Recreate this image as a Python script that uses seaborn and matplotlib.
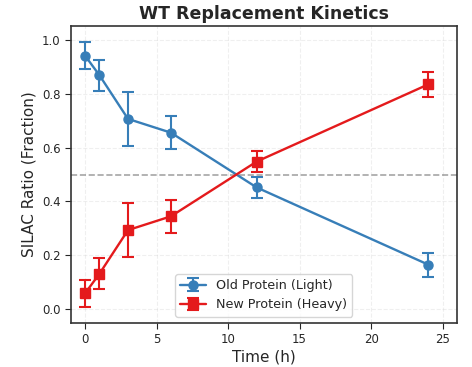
import matplotlib
matplotlib.use("Agg")
import matplotlib.pyplot as plt
import seaborn as sns
import numpy as np

time_h = [0, 1, 3, 6, 12, 24]
old_mean = [0.94, 0.868, 0.706, 0.655, 0.452, 0.166]
old_err = [0.05, 0.057, 0.10, 0.06, 0.04, 0.045]
new_mean = [0.06, 0.132, 0.294, 0.345, 0.548, 0.834]
new_err = [0.05, 0.057, 0.10, 0.06, 0.04, 0.045]

sns.set_style("ticks")
plt.rcParams['font.family'] = ['DejaVu Sans']

fig, ax = plt.subplots(figsize=(4.72, 3.67), dpi=100)

blue = "#377eb8"
red = "#e41a1c"

ax.errorbar(time_h, old_mean, yerr=old_err, color=blue, marker='o', markersize=6.5,
            linewidth=1.7, capsize=4, elinewidth=1.5, capthick=1.5,
            label="Old Protein (Light)")
ax.errorbar(time_h, new_mean, yerr=new_err, color=red, marker='s', markersize=6.5,
            linewidth=1.7, capsize=4, elinewidth=1.5, capthick=1.5,
            label="New Protein (Heavy)")
ax.axhline(0.5, color='grey', linestyle='--', linewidth=1.2, alpha=0.7)

ax.set_xlim(-1, 26)
ax.set_ylim(-0.05, 1.05)
ax.set_xticks([0, 5, 10, 15, 20, 25])
ax.set_yticks([0.0, 0.2, 0.4, 0.6, 0.8, 1.0])
ax.grid(True, linestyle='--', alpha=0.3)
ax.set_xlabel("Time (h)", fontsize=11, labelpad=2)
ax.set_ylabel("SILAC Ratio (Fraction)", fontsize=11)
ax.set_title("WT Replacement Kinetics", fontsize=12.5, fontweight='bold', pad=5)
ax.tick_params(labelsize=8.5, length=4)
for s in ax.spines.values():
    s.set_color('#333333')
    s.set_linewidth(1.2)
ax.legend(loc='lower center', fontsize=9.2)

fig.subplots_adjust(left=0.15, right=0.968, top=0.929, bottom=0.12)
fig.savefig("out.png", dpi=100)
